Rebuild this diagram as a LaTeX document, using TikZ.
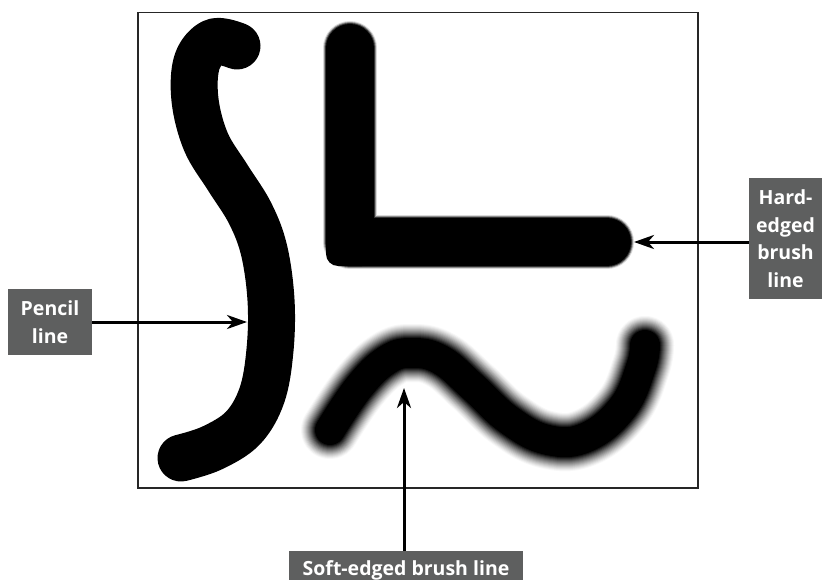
\documentclass[tikz,border=0pt]{standalone}
\usepackage{fontspec}
\setmainfont{Open Sans}
\usetikzlibrary{arrows.meta}
\definecolor{boxgray}{RGB}{94,95,95}
\begin{document}
\begin{tikzpicture}[x=1pt,y=-1pt,
  lbl/.style={fill=boxgray, text=white, font=\fontsize{19.5}{27.5}\selectfont\bfseries, align=center, inner sep=0pt},
  arr/.style={line width=3pt, -{Stealth[length=20pt,width=14pt,inset=6pt]}},
  framebox/.style={draw=black!85, line width=1.5pt, inner sep=0pt},
  stroke/.style={line cap=round, line join=round}]
\useasboundingbox (0,0) rectangle (824,580);
\fill[white] (0,0) rectangle (824,580);
\node[framebox, anchor=north west, minimum width=560pt, minimum height=475pt] (frame) at (137,12) {};
% pencil line
\draw[stroke, black, line width=47pt] plot[smooth, tension=0.6] coordinates {(237,46) (214,42) (197,62) (195,100) (206,142) (228,178) (250,213) (264,250) (271,300) (270,350) (262,395) (243,428) (212,448) (181,458)};
% hard-edged brush line
\foreach \w/\c in {54/15, 52/45, 50/80, 48/100}
  \draw[stroke, black!\c, line width=\w*1pt] (350,48) -- (350,242) -- (607,242);
\fill[black, rounded corners=12pt] (326,218) rectangle (374,266);
% soft-edged brush line
\foreach \i in {0,...,18}{
  \pgfmathsetmacro\w{60-2*\i}
  \pgfmathsetmacro\c{min(100,100*(\i/15)^1.3)}
  \draw[stroke, black!\c, line width=\w*1pt] plot[smooth, tension=0.7] coordinates {(330,430) (359,387) (387,360) (412,353) (441,360) (473,387) (509,420) (548,440) (587,437) (623,407) (641,367) (645,345)};
}
% labels
\node[lbl, minimum width=84pt, minimum height=66pt] (pencilbox) at (50,322) {Pencil\\line};
\node[lbl, minimum width=73pt, minimum height=121pt] (hardbox) at (785.5,238.5) {Hard-\\edged\\brush\\line};
\node[lbl, anchor=north, minimum width=234pt, text height=24pt, text depth=10pt] (softbox) at (406,551) {Soft-edged brush line};
% arrows
\coordinate (pencilpt) at (247,322);
\coordinate (hardpt) at (634,242);
\coordinate (softpt) at (404,388);
\draw[arr] (pencilbox.east) -- (pencilpt);
\draw[arr] (hardbox.west |- hardpt) -- (hardpt);
\draw[arr] (softbox.north -| softpt) -- (softpt);
\end{tikzpicture}
\end{document}
